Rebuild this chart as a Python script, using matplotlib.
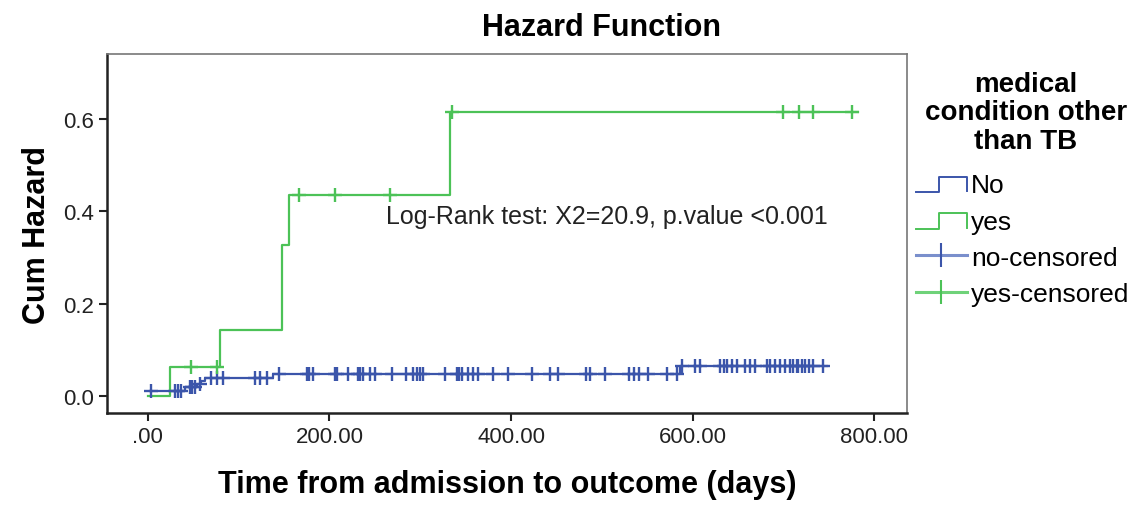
import numpy as np
import matplotlib
matplotlib.use("Agg")
import matplotlib.pyplot as plt
from matplotlib.lines import Line2D
from matplotlib.legend_handler import HandlerBase
from matplotlib.ticker import FuncFormatter

plt.rcParams["font.family"] = ["Liberation Sans", "DejaVu Sans"]

# ---- data ----
# "yes" group: step times and cumulative hazard after each step
yes_time = [0, 24, 79, 148, 156, 333, 782]
yes_haz = [0.0, 0.063, 0.143, 0.328, 0.435, 0.615, 0.615]
yes_cens = [48, 76, 166, 206, 267, 335, 699, 717, 732, 775]

# "No" group
no_time = [2, 41, 54, 59, 63, 138, 586, 748]
no_haz = [0.011, 0.020, 0.026, 0.033, 0.039, 0.048, 0.064, 0.064]
no_cens = [4, 30, 33, 37, 46, 49, 52, 57, 70, 76, 83, 118, 124, 131, 145,
           175, 178, 182, 206, 208, 220, 231, 234, 237, 245, 250, 269, 284,
           292, 296, 300, 303, 327, 340, 343, 346, 353, 358, 364, 380, 397,
           423, 443, 452, 483, 487, 504, 530, 535, 541, 551, 572, 583, 588,
           603, 608, 630, 634, 638, 643, 649, 658, 663, 669, 682, 685, 691,
           696, 702, 707, 711, 715, 716, 720, 724, 728, 732, 743]

legend_labels = ["No", "yes", "no-censored", "yes-censored"]
legend_title = "medical\ncondition other\nthan TB"
test_text = "Log-Rank test: X2=20.9, p.value <0.001"

blue = "#3b55aa"
green = "#4cc257"
blue_light = "#7a8fcc"
green_light = "#6fd279"


def level_at(t, times, haz):
    idx = np.searchsorted(times, t, side="right") - 1
    return np.asarray(haz)[np.clip(idx, 0, None)]


class StepHandler(HandlerBase):
    # little step-shaped icon like the SPSS legend
    def create_artists(self, legend, orig_handle, xdescent, ydescent,
                       width, height, fontsize, trans):
        x = np.array([0.0, 0.45, 0.45, 1.0, 1.0]) * width - xdescent
        y = np.array([0.0, 0.0, 0.85, 0.85, 0.05]) * height - ydescent
        ln = Line2D(x, y, color=orig_handle.get_color(),
                    lw=orig_handle.get_linewidth(), transform=trans)
        return [ln]


fig = plt.figure(figsize=(11.39, 5.10), dpi=100)
ax = fig.add_axes([0.0939, 0.1882, 0.7024, 0.7039])

ax.step(no_time, no_haz, where="post", color=blue, lw=1.6)
ax.step(yes_time, yes_haz, where="post", color=green, lw=1.6)
ax.plot(no_cens, level_at(no_cens, no_time, no_haz), ls="none", marker="+",
        ms=10, mew=1.7, color=blue)
ax.plot(yes_cens, level_at(yes_cens, yes_time, yes_haz), ls="none",
        marker="+", ms=10, mew=1.7, color=green)

ax.text(262, 0.389, test_text, fontsize=18, va="center", ha="left",
        color="#222222")

ax.set_xlim(-45, 836)
ax.set_ylim(-0.037, 0.741)
ax.set_xticks([0, 200, 400, 600, 800])
ax.set_yticks([0.0, 0.2, 0.4, 0.6])
ax.xaxis.set_major_formatter(FuncFormatter(
    lambda v, p: ".00" if v == 0 else "%.2f" % v))
ax.yaxis.set_major_formatter(FuncFormatter(lambda v, p: "%.1f" % v))
ax.tick_params(labelsize=16, length=6, width=1.5, direction="out",
               colors="#222222")
for s in ["left", "bottom"]:
    ax.spines[s].set_linewidth(1.8)
    ax.spines[s].set_color("#222222")
for s in ["top", "right"]:
    ax.spines[s].set_linewidth(1.2)
    ax.spines[s].set_color("#777777")

ax.set_xlabel("Time from admission to outcome (days)", fontsize=22,
              fontweight="bold", labelpad=16)
ax.set_ylabel("Cum Hazard", fontsize=22, fontweight="bold", labelpad=8)
fig.text(0.528, 0.945, "Hazard Function", fontsize=22, fontweight="bold",
         ha="center", va="center")

# legend title as its own centred block
fig.text(0.9008, 0.778, legend_title, fontsize=20, fontweight="bold",
         ha="center", va="center", multialignment="center", linespacing=1.12)

handles = [Line2D([], [], color=blue, lw=1.4),
           Line2D([], [], color=green, lw=1.4),
           Line2D([0], [0], color=blue_light, lw=2.2, marker="|", ms=17,
                  mew=1.5, markeredgecolor=blue),
           Line2D([0], [0], color=green_light, lw=2.2, marker="|", ms=17,
                  mew=1.5, markeredgecolor=green)]
leg = fig.legend(handles, legend_labels, loc="upper left",
                 bbox_to_anchor=(0.804, 0.658), frameon=False, fontsize=19,
                 handlelength=1.95, handletextpad=0.15,
                 labelspacing=0.46, borderaxespad=0, borderpad=0,
                 handler_map={handles[0]: StepHandler(),
                              handles[1]: StepHandler()})

fig.savefig("out.png", dpi=100)
